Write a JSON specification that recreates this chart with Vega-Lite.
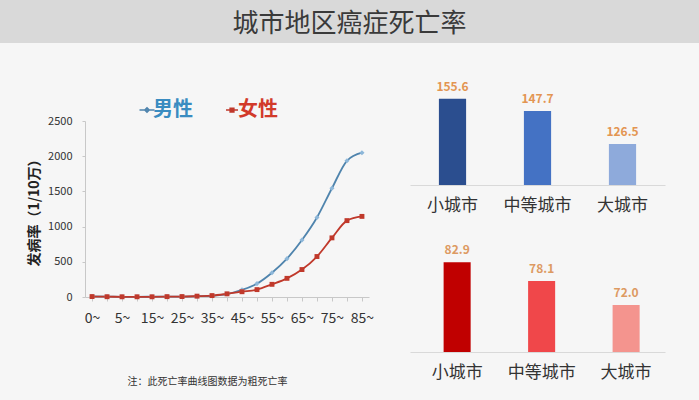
{
  "$schema": "https://vega.github.io/schema/vega-lite/v6.json",
  "background": "#f6f6f6",
  "padding": 0,
  "bounds": "flush",
  "spacing": 78,
  "config": {
    "view": {"stroke": null},
    "font": "Noto Sans CJK SC",
    "axis": {"labelFont": "Noto Sans CJK SC", "titleFont": "Noto Sans CJK SC"},
    "legend": {"labelFont": "Noto Sans CJK SC"}
  },
  "resolve": {"scale": {"color": "independent", "fill": "independent", "shape": "independent", "x": "independent", "y": "independent"}, "legend": {"color": "independent"}},
  "vconcat": [
    {
      "width": 699,
      "height": 43,
      "view": {"fill": "#d9d9d9", "stroke": null},
      "data": {"values": [{"title": "城市地区癌症死亡率"}]},
      "mark": {"type": "text", "fontSize": 26, "color": "#3a3a3a", "align": "center", "baseline": "middle", "dy": 2},
      "encoding": {"text": {"field": "title"}}
    },
    {
      "bounds": "flush",
      "spacing": 0,
      "resolve": {"scale": {"color": "independent", "fill": "independent", "shape": "independent"}, "legend": {"color": "independent"}},
      "hconcat": [
        {"width": 85, "height": 279, "data": {"values": []}, "mark": "point"},
        {
          "width": 284,
          "height": 176,
          "data": {"values": [
            {"age": "0~", "sex": "男性", "value": 8},
            {"age": "1~", "sex": "男性", "value": 5},
            {"age": "5~", "sex": "男性", "value": 3},
            {"age": "10~", "sex": "男性", "value": 3},
            {"age": "15~", "sex": "男性", "value": 4},
            {"age": "20~", "sex": "男性", "value": 5},
            {"age": "25~", "sex": "男性", "value": 6},
            {"age": "30~", "sex": "男性", "value": 10},
            {"age": "35~", "sex": "男性", "value": 18},
            {"age": "40~", "sex": "男性", "value": 42},
            {"age": "45~", "sex": "男性", "value": 102},
            {"age": "50~", "sex": "男性", "value": 190},
            {"age": "55~", "sex": "男性", "value": 345},
            {"age": "60~", "sex": "男性", "value": 545},
            {"age": "65~", "sex": "男性", "value": 810},
            {"age": "70~", "sex": "男性", "value": 1130},
            {"age": "75~", "sex": "男性", "value": 1545},
            {"age": "80~", "sex": "男性", "value": 1935},
            {"age": "85~", "sex": "男性", "value": 2050},
            {"age": "0~", "sex": "女性", "value": 6},
            {"age": "1~", "sex": "女性", "value": 4},
            {"age": "5~", "sex": "女性", "value": 3},
            {"age": "10~", "sex": "女性", "value": 3},
            {"age": "15~", "sex": "女性", "value": 3},
            {"age": "20~", "sex": "女性", "value": 5},
            {"age": "25~", "sex": "女性", "value": 6},
            {"age": "30~", "sex": "女性", "value": 12},
            {"age": "35~", "sex": "女性", "value": 20},
            {"age": "40~", "sex": "女性", "value": 45},
            {"age": "45~", "sex": "女性", "value": 75},
            {"age": "50~", "sex": "女性", "value": 105},
            {"age": "55~", "sex": "女性", "value": 180},
            {"age": "60~", "sex": "女性", "value": 265},
            {"age": "65~", "sex": "女性", "value": 390},
            {"age": "70~", "sex": "女性", "value": 575},
            {"age": "75~", "sex": "女性", "value": 840},
            {"age": "80~", "sex": "女性", "value": 1085},
            {"age": "85~", "sex": "女性", "value": 1145}
          ]},
          "encoding": {
            "x": {
              "field": "age", "type": "ordinal",
              "sort": ["0~","1~","5~","10~","15~","20~","25~","30~","35~","40~","45~","50~","55~","60~","65~","70~","75~","80~","85~"],
              "scale": {"type": "point", "padding": 0.47},
              "axis": {
                "title": "注：此死亡率曲线图数据为粗死亡率",
                "titleFontSize": 10, "titleFontWeight": "normal", "titleColor": "#333333",
                "titleX": 122, "titleY": 84, "titleBaseline": "middle", "titleAlign": "center",
                "labelExpr": "indexof(['0~','5~','15~','25~','35~','45~','55~','65~','75~','85~'], datum.value) >= 0 ? datum.value : ''",
                "labelAngle": 0, "labelFontSize": 14, "labelColor": "#333333", "labelPadding": 10,
                "labelOverlap": false,
                "tickSize": 4, "tickColor": "#c8c8c8", "domainColor": "#c8c8c8", "grid": false
              }
            },
            "y": {
              "field": "value", "type": "quantitative",
              "scale": {"domain": [0, 2500]},
              "axis": {
                "values": [0, 500, 1000, 1500, 2000, 2500], "format": "d",
                "title": "发病率（1/10万）", "titleFontSize": 14, "titleFontWeight": "bold", "titleColor": "#222222", "titlePadding": 6,
                "labelFontSize": 11, "labelColor": "#333333", "labelPadding": 10,
                "ticks": true, "tickSize": 3, "tickColor": "#c8c8c8", "domainColor": "#c8c8c8", "grid": false
              }
            }
          },
          "layer": [
            {
              "mark": {"type": "line", "interpolate": "monotone", "strokeWidth": 1.8},
              "encoding": {
                "color": {
                  "field": "sex", "type": "nominal",
                  "scale": {"domain": ["男性", "女性"], "range": ["#4f84ad", "#c0392b"]},
                  "legend": {
                    "orient": "none", "legendX": 52, "legendY": -21, "direction": "horizontal",
                    "title": null, "labelFontSize": 20, "labelFontWeight": "bold",
                    "symbolSize": 225, "symbolStrokeWidth": 1.5, "columnPadding": 29, "labelOffset": -4,
                    "encode": {
                      "symbols": {"update": {
                        "shape": {"signal": "datum.value === '男性' ? 'M-1,0H1M0,-0.3L0.3,0L0,0.3L-0.3,0Z' : 'M-0.8,0H0.8M-0.25,-0.25H0.25V0.25H-0.25Z'"},
                        "fill": {"signal": "datum.value === '男性' ? '#8db7d9' : '#c0392b'"},
                        "fillOpacity": {"value": 1}
                      }},
                      "labels": {"update": {"fill": {"signal": "datum.value === '男性' ? '#3a8cc1' : '#d23a2a'"}}}
                    }
                  }
                }
              }
            },
            {
              "transform": [{"filter": "datum.sex === '男性'"}],
              "mark": {"type": "point", "shape": "diamond", "filled": true, "opacity": 1, "strokeWidth": 0, "color": "#8db7d9", "size": 26}
            },
            {
              "transform": [{"filter": "datum.sex === '女性'"}],
              "mark": {"type": "point", "shape": "square", "filled": true, "opacity": 1, "strokeWidth": 0, "color": "#c0392b", "size": 24}
            }
          ]
        },
        {"width": 41, "height": 10, "data": {"values": []}, "mark": "point"},
        {
          "width": 255,
          "height": 231,
          "resolve": {"scale": {"x": "independent", "y": "independent", "color": "independent"}, "axis": {"x": "independent"}},
          "layer": [
            {
              "data": {"values": [
                {"city": "小城市", "rate": 155.6},
                {"city": "中等城市", "rate": 147.7},
                {"city": "大城市", "rate": 126.5}
              ]},
              "encoding": {
                "x": {"field": "city", "type": "nominal", "sort": null,
                  "scale": {"paddingInner": 0.68, "paddingOuter": 0.34},
                  "axis": {"orient": "bottom", "offset": -167, "title": null, "labelAngle": 0, "labelFontSize": 17, "labelColor": "#333333", "ticks": false, "labelPadding": 12, "domainColor": "#d9d9d9"}},
                "y": {"field": "rate", "type": "quantitative", "scale": {"domain": [-7.74, 141.29], "zero": false, "nice": false}, "axis": null}
              },
              "layer": [
                {"mark": {"type": "bar"},
                 "encoding": {
                   "y2": {"datum": 100},
                   "color": {"field": "city", "type": "nominal", "sort": null,
                   "scale": {"domain": ["小城市", "中等城市", "大城市"], "range": ["#2b4e8f", "#4472c4", "#8eaadb"]}, "legend": null}}},
                {"mark": {"type": "text", "dy": -5, "baseline": "bottom", "fontSize": 12, "fontWeight": "bold", "color": "#e39552"},
                 "encoding": {"text": {"field": "rate", "type": "quantitative", "format": ".1f"}}}
              ]
            },
            {
              "data": {"values": [
                {"city": "小城市", "rate": 82.9},
                {"city": "中等城市", "rate": 78.1},
                {"city": "大城市", "rate": 72.0}
              ]},
              "encoding": {
                "x": {"field": "city", "type": "nominal", "sort": null,
                  "scale": {"paddingInner": 0.68, "paddingOuter": 0.349, "align": 0.57},
                  "axis": {"orient": "bottom", "offset": 0, "title": null, "labelAngle": 0, "labelFontSize": 17, "labelColor": "#333333", "ticks": false, "labelPadding": 12, "domainColor": "#d9d9d9"}},
                "y": {"field": "rate", "type": "quantitative", "scale": {"domain": [60, 118.93], "zero": false, "nice": false}, "axis": null}
              },
              "layer": [
                {"mark": {"type": "bar"},
                 "encoding": {
                   "y2": {"datum": 60},
                   "color": {"field": "city", "type": "nominal", "sort": null,
                   "scale": {"domain": ["小城市", "中等城市", "大城市"], "range": ["#c00000", "#f0474a", "#f4948e"]}, "legend": null}}},
                {"mark": {"type": "text", "dy": -5, "baseline": "bottom", "fontSize": 12, "fontWeight": "bold", "color": "#dd9a62"},
                 "encoding": {"text": {"field": "rate", "type": "quantitative", "format": ".1f"}}}
              ]
            }
          ]
        }
      ]
    }
  ]
}
